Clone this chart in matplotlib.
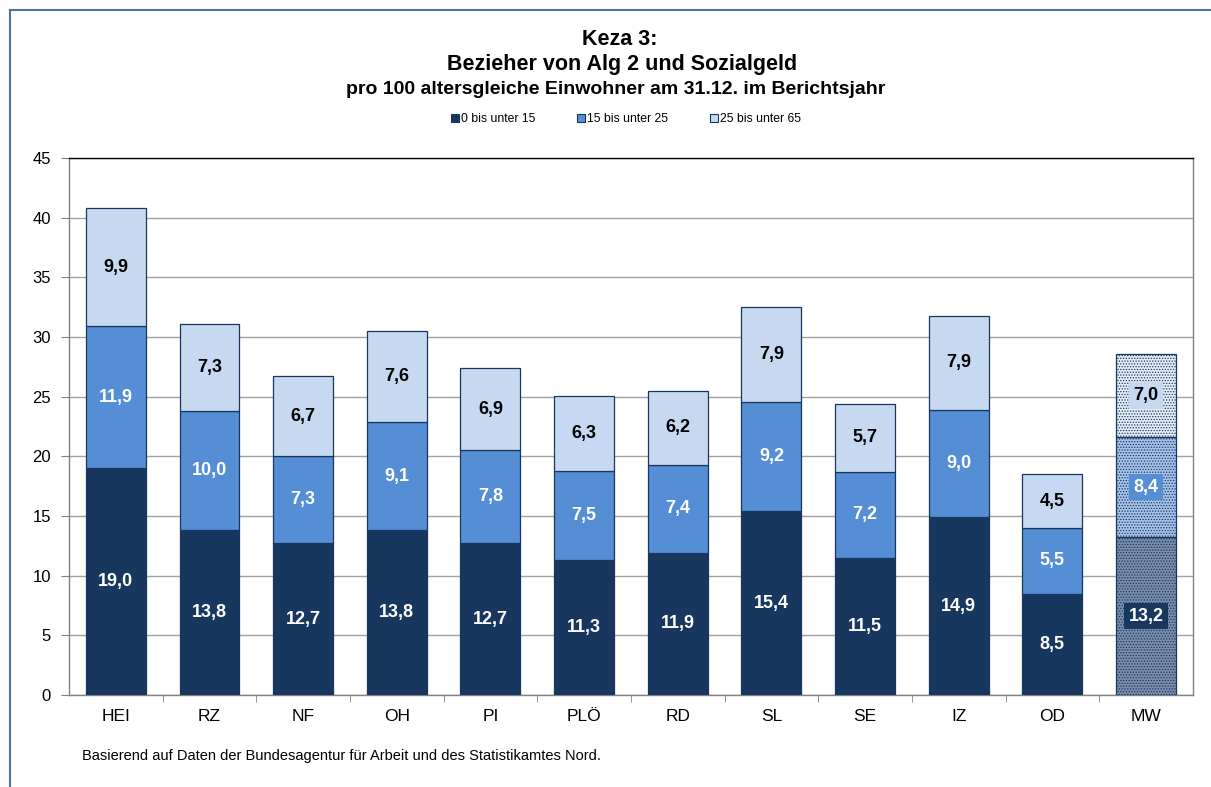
import matplotlib.pyplot as plt
from matplotlib.lines import Line2D

kreise = ['HEI', 'RZ', 'NF', 'OH', 'PI', 'PLÖ', 'RD', 'SL', 'SE', 'IZ', 'OD', 'MW']
u15 = [19.0, 13.8, 12.7, 13.8, 12.7, 11.3, 11.9, 15.4, 11.5, 14.9, 8.5, 13.2]
u25 = [11.9, 10.0, 7.3, 9.1, 7.8, 7.5, 7.4, 9.2, 7.2, 9.0, 5.5, 8.4]
u65 = [9.9, 7.3, 6.7, 7.6, 6.9, 6.3, 6.2, 7.9, 5.7, 7.9, 4.5, 7.0]
serien = ['0 bis unter 15', '15 bis unter 25', '25 bis unter 65']

farben = ['#17375E', '#558ED5', '#C6D9F1']
textfarben = ['white', 'white', 'black']
# Mittelwert-Balken: gemustert
mw_face = ['#7B8CAA', '#A6C2EA', '#E4ECF7']

plt.rcParams['font.family'] = ['Liberation Sans', 'DejaVu Sans']
plt.rcParams['hatch.linewidth'] = 0.6

fig = plt.figure(figsize=(12.11, 7.87), dpi=100)
ax = fig.add_axes([0.057, 0.117, 0.928, 0.682])

x = list(range(len(kreise)))
breite = 0.64
unten = [0.0] * len(kreise)
for werte, farbe, tf, mwf in zip([u15, u25, u65], farben, textfarben, mw_face):
    bars = ax.bar(x, werte, breite, bottom=unten, color=farbe,
                  edgecolor='#17375E', linewidth=0.9, zorder=3)
    # MW-Balken mit Muster
    mw = bars[-1]
    mw.set_facecolor(mwf)
    mw.set_hatch('......')
    mw.set_edgecolor('#17375E')
    for i, v in enumerate(werte):
        y = unten[i] + v / 2
        txt = f'{v:.1f}'.replace('.', ',')
        if i == len(kreise) - 1:
            ax.text(i, y, txt, ha='center', va='center', color=tf,
                    fontsize=13, fontweight='bold', zorder=5,
                    bbox=dict(boxstyle='square,pad=0.25', fc=farbe, ec='none'))
        else:
            ax.text(i, y, txt, ha='center', va='center', color=tf,
                    fontsize=13, fontweight='bold', zorder=5)
    unten = [a + b for a, b in zip(unten, werte)]

ax.set_xlim(-0.5, len(kreise) - 0.5)
ax.set_ylim(0, 45)
ax.set_yticks(range(0, 46, 5))
ax.set_xticks(x)
ax.set_xticklabels(kreise)
ax.set_xticks([i + 0.5 for i in x[:-1]], minor=True)
ax.tick_params(axis='x', which='major', length=0, pad=10, labelsize=12.5)
ax.tick_params(axis='x', which='minor', length=5, color='#808080')
ax.tick_params(axis='y', length=6, color='#808080', labelsize=12, pad=7)
ax.yaxis.grid(True, color='#A0A0A0', linewidth=1)
ax.set_axisbelow(True)
for s in ['left', 'bottom', 'right']:
    ax.spines[s].set_color('#808080')
ax.spines['top'].set_color('black')
for s in ax.spines.values():
    s.set_linewidth(1)

# Titel
fig.text(0.512, 0.950, 'Keza 3:', ha='center', va='center', fontsize=15.5, fontweight='bold')
fig.text(0.514, 0.918, 'Bezieher von Alg 2 und Sozialgeld', ha='center', va='center',
         fontsize=15.5, fontweight='bold')
fig.text(0.508, 0.886, 'pro 100 altersgleiche Einwohner am 31.12. im Berichtsjahr',
         ha='center', va='center', fontsize=14, fontweight='bold')

handles = [Line2D([], [], marker='s', linestyle='none', markersize=6,
                  markerfacecolor=f, markeredgecolor='#17375E', markeredgewidth=0.8)
           for f in farben]
fig.legend(handles, serien, loc='center', bbox_to_anchor=(0.517, 0.849), ncol=3,
           frameon=False, fontsize=8.8, handlelength=0.6, handletextpad=0.15,
           columnspacing=3.5)

fig.text(0.068, 0.04, 'Basierend auf Daten der Bundesagentur für Arbeit und des Statistikamtes Nord.',
         ha='left', va='center', fontsize=10.5)

# Rahmen
fig.add_artist(Line2D([0.0085, 1.0], [0.987, 0.987], transform=fig.transFigure,
                      color='#4F6EA5', linewidth=1.5))
fig.add_artist(Line2D([0.0085, 0.0085], [0.0, 0.987], transform=fig.transFigure,
                      color='#4F6EA5', linewidth=1.5))

fig.savefig('out.png', dpi=100)
